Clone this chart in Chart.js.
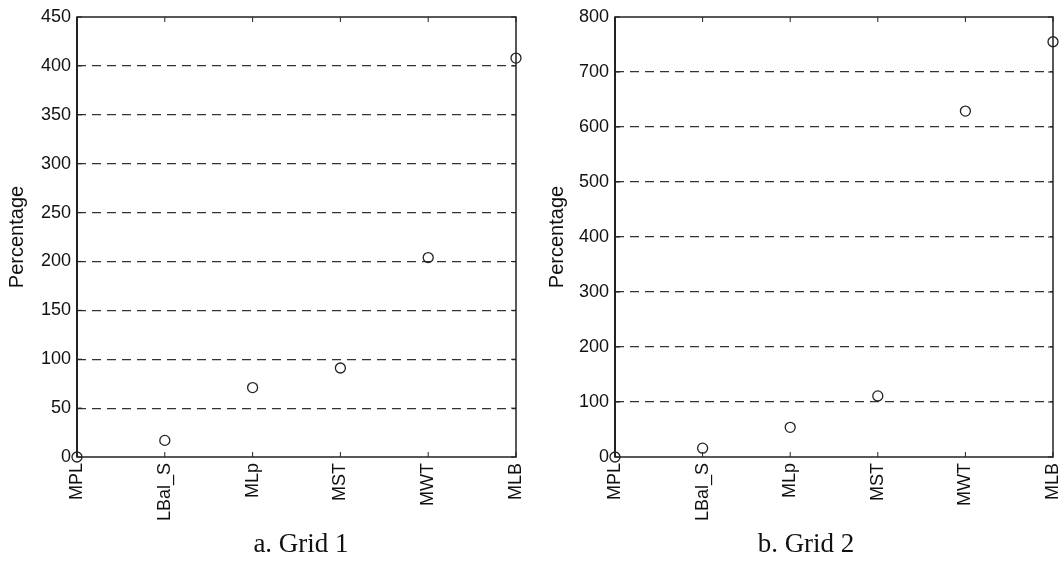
<!DOCTYPE html>
<html>
<head>
<meta charset="utf-8">
<script src="https://cdn.jsdelivr.net/npm/chart.js@4"></script>
<style>
  body { margin: 0; background: #fff; width: 1060px; height: 571px; position: relative; overflow: hidden; }
  .box { position: absolute; top: 0; height: 530px; }
  .cap { position: absolute; top: 528px; font-family: "Liberation Serif", "Times New Roman", serif; font-size: 27px; color: #111; transform: translateX(-50%); white-space: nowrap; }
</style>
</head>
<body>
<div class="box" style="left:0;width:535px"><canvas id="grid1"></canvas></div>
<div class="box" style="left:535px;width:525px"><canvas id="grid2"></canvas></div>
<div class="cap" style="left:301px">a. Grid 1</div>
<div class="cap" style="left:806px">b. Grid 2</div>
<script>
const categories = ['MPL', 'LBal_S', 'MLp', 'MST', 'MWT', 'MLB'];
const grid1Values = [0, 17, 71, 91, 204, 408];
const grid2Values = [0, 16, 54, 111, 629, 755];
const grid1Ticks = { min: 0, max: 450, step: 50 };
const grid2Ticks = { min: 0, max: 800, step: 100 };

Chart.defaults.font.family = '"Liberation Sans", Arial, sans-serif';
Chart.defaults.color = '#111';

// box round the plot plus small inward ticks on all four sides
const framePlugin = {
  id: 'frame',
  afterDraw(chart) {
    const { ctx, chartArea: a, scales } = chart;
    ctx.save();
    ctx.strokeStyle = '#222';
    ctx.lineWidth = 1;
    ctx.beginPath();
    scales.x.ticks.forEach((t, i) => {
      const x = scales.x.getPixelForTick(i);
      ctx.moveTo(x, a.bottom); ctx.lineTo(x, a.bottom - 5);
      ctx.moveTo(x, a.top); ctx.lineTo(x, a.top + 5);
    });
    scales.y.ticks.forEach((t, i) => {
      const y = scales.y.getPixelForTick(i);
      ctx.moveTo(a.left, y); ctx.lineTo(a.left + 5, y);
      ctx.moveTo(a.right, y); ctx.lineTo(a.right - 5, y);
    });
    ctx.stroke();
    ctx.lineWidth = 1.5;
    ctx.strokeRect(a.left, a.top, a.right - a.left, a.bottom - a.top);
    ctx.lineWidth = 2;
    ctx.beginPath();
    ctx.moveTo(a.left, a.top); ctx.lineTo(a.left, a.bottom);
    ctx.stroke();
    ctx.restore();
  }
};

function makeChart(id, values, yt, yWidth, rightPad, titlePad) {
  return new Chart(document.getElementById(id), {
    type: 'line',
    data: {
      labels: categories,
      datasets: [{
        data: values,
        showLine: false,
        pointStyle: 'circle',
        pointRadius: 5,
        pointHoverRadius: 5,
        pointBorderWidth: 1.3,
        pointBorderColor: '#222',
        pointBackgroundColor: 'rgba(0,0,0,0)',
        clip: false
      }]
    },
    options: {
      responsive: true,
      maintainAspectRatio: false,
      animation: false,
      events: [],
      layout: { padding: { top: 17, right: rightPad, left: 0, bottom: 0 } },
      plugins: { legend: { display: false }, tooltip: { enabled: false } },
      scales: {
        x: {
          offset: false,
          border: { display: false },
          grid: { display: false, drawTicks: false },
          ticks: { maxRotation: 90, minRotation: 90, padding: 6, font: { size: 18 }, color: '#111' },
          afterFit(s) { s.height = 73; s.paddingLeft = 0; s.paddingRight = 0; }
        },
        y: {
          min: yt.min,
          max: yt.max,
          grid: {
            drawTicks: false,
            color: ctx => (ctx.tick.value === yt.min || ctx.tick.value === yt.max) ? 'rgba(0,0,0,0)' : '#333',
            lineWidth: 1.2
          },
          border: { display: false, dash: [9, 6] },
          ticks: { stepSize: yt.step, padding: 6, font: { size: 18 }, color: '#111' },
          title: { display: true, text: 'Percentage', font: { size: 20 }, color: '#111', padding: { top: titlePad, bottom: 0 } },
          afterFit(s) { s.width = yWidth; s.paddingTop = 0; s.paddingBottom = 0; }
        }
      }
    },
    plugins: [framePlugin]
  });
}

makeChart('grid1', grid1Values, grid1Ticks, 77, 19, 5);
makeChart('grid2', grid2Values, grid2Ticks, 80, 7, 10);
</script>
</body>
</html>
